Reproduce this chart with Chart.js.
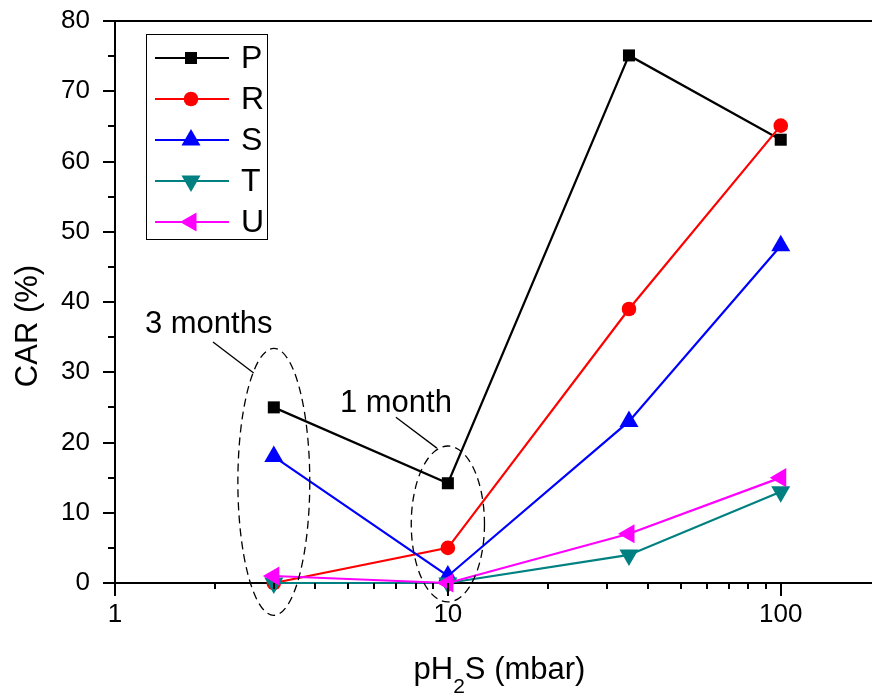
<!DOCTYPE html>
<html>
<head>
<meta charset="utf-8">
<script src="https://cdn.jsdelivr.net/npm/chart.js@4/dist/chart.umd.min.js"></script>
<style>
html,body{margin:0;padding:0;background:#fff;}
#wrap{width:872px;height:695px;}
</style>
</head>
<body>
<div id="wrap"><canvas id="c" width="872" height="695"></canvas></div>
<script>
// ---- data ----
const xValues = [3, 10, 35, 100];
const seriesP = [25, 14.2, 75.1, 63.1];
const seriesR = [0, 5, 39, 65.1];
const seriesS = [18, 1, 23, 48];
const seriesT = [0, 0, 4, 13];
const seriesU = [1, 0, 7, 15];
const seriesNames = ['P', 'R', 'S', 'T', 'U'];
const xTickLabels = [1, 10, 100];
const yTickValues = [0, 10, 20, 30, 40, 50, 60, 70, 80];
const xTitleParts = ['pH', '2', 'S (mbar)'];
const yTitle = 'CAR (%)';
// annotations in data units
const groupNotes = [
  {text: '3 months', textX: 1.23, textY: 35.6, lineFrom: [1.97, 34.3], lineTo: [2.61, 29.9], cx: 3, cy: 14.4, ry: 19, rxDec: 0.108},
  {text: '1 month', textX: 4.74, textY: 24.4, lineFrom: [6.98, 23.6], lineTo: [9.27, 19.2], cx: 10, cy: 8.4, ry: 11.1, rxDec: 0.11}
];

const FONT = '"Liberation Sans", Arial, Helvetica, sans-serif';

const styles = [
  {color: '#000000', point: 'rect', radius: 8.5, rot: 0},
  {color: '#ff0000', point: 'circle', radius: 7.3, rot: 0},
  {color: '#0000ff', point: 'triangle', radius: 11, rot: 0},
  {color: '#008080', point: 'triangle', radius: 11, rot: 180},
  {color: '#ff00ff', point: 'triangle', radius: 11, rot: -90}
];
const allSeries = [seriesP, seriesR, seriesS, seriesT, seriesU];

const datasets = allSeries.map((s, i) => ({
  label: seriesNames[i],
  data: xValues.map((x, j) => ({x: x, y: s[j]})),
  borderColor: styles[i].color,
  backgroundColor: styles[i].color,
  borderWidth: 2.2,
  pointStyle: styles[i].point,
  pointRadius: styles[i].radius,
  pointRotation: styles[i].rot,
  pointBorderWidth: 0,
  pointBackgroundColor: styles[i].color,
  pointHoverRadius: styles[i].radius,
  order: 5 - i,
  clip: false,
  tension: 0
}));

function drawMarker(ctx, st, x, y) {
  const r = st.radius;
  ctx.save();
  ctx.fillStyle = st.color;
  ctx.translate(x, y);
  ctx.rotate(st.rot * Math.PI / 180);
  ctx.beginPath();
  if (st.point === 'rect') {
    const s = Math.SQRT1_2 * r;
    ctx.rect(-s, -s, 2 * s, 2 * s);
  } else if (st.point === 'circle') {
    ctx.arc(0, 0, r, 0, Math.PI * 2);
  } else {
    for (let k = 0; k < 3; k++) {
      const a = k * 2 * Math.PI / 3;
      const px = Math.sin(a) * r, py = -Math.cos(a) * r;
      if (k === 0) ctx.moveTo(px, py); else ctx.lineTo(px, py);
    }
    ctx.closePath();
  }
  ctx.fill();
  ctx.restore();
}

const decor = {
  id: 'decor',
  afterDatasetsDraw(chart) {
    const ctx = chart.ctx;
    const xs = chart.scales.x, ys = chart.scales.y;
    const ca = chart.chartArea;
    ctx.save();
    // top frame line
    ctx.strokeStyle = '#000';
    ctx.lineWidth = 2;
    ctx.beginPath();
    ctx.moveTo(ca.left, ca.top);
    ctx.lineTo(ca.right + 2, ca.top);
    ctx.stroke();
    // y tick marks
    for (let v = ys.min; v <= ys.max + 1e-9; v += 5) {
      const py = Math.round(ys.getPixelForValue(v));
      const len = (v % 10 === 0) ? 12 : 7;
      ctx.beginPath();
      ctx.moveTo(ca.left - len, py);
      ctx.lineTo(ca.left, py);
      ctx.stroke();
    }
    // x tick marks (log)
    for (let d = 1; d <= xs.max; d *= 10) {
      for (let k = 1; k <= 9; k++) {
        const v = d * k;
        if (v < xs.min || v > xs.max) continue;
        const px = Math.round(xs.getPixelForValue(v));
        const len = (k === 1) ? 13 : 6;
        ctx.beginPath();
        ctx.moveTo(px, ca.bottom);
        ctx.lineTo(px, ca.bottom + len);
        ctx.stroke();
      }
    }
    // group ellipses, leader lines, notes
    ctx.lineWidth = 1.3;
    ctx.strokeStyle = '#000';
    groupNotes.forEach(n => {
      const cx = xs.getPixelForValue(n.cx);
      const rx = xs.getPixelForValue(n.cx * Math.pow(10, n.rxDec)) - cx;
      const cy = ys.getPixelForValue(n.cy);
      const ry = ys.getPixelForValue(n.cy - n.ry) - cy;
      ctx.setLineDash([8, 5]);
      ctx.beginPath();
      ctx.ellipse(cx, cy, rx, ry, 0, 0, Math.PI * 2);
      ctx.stroke();
      ctx.setLineDash([]);
      ctx.beginPath();
      ctx.moveTo(xs.getPixelForValue(n.lineFrom[0]), ys.getPixelForValue(n.lineFrom[1]));
      ctx.lineTo(xs.getPixelForValue(n.lineTo[0]), ys.getPixelForValue(n.lineTo[1]));
      ctx.stroke();
      ctx.fillStyle = '#000';
      ctx.font = '31px ' + FONT;
      ctx.textAlign = 'left';
      ctx.textBaseline = 'alphabetic';
      ctx.fillText(n.text, xs.getPixelForValue(n.textX), ys.getPixelForValue(n.textY));
    });
    // legend
    const lx = ca.left + 31, ly = ca.top + 13, lw = 121, lh = 205;
    ctx.lineWidth = 1;
    ctx.strokeStyle = '#000';
    ctx.strokeRect(lx + 0.5, ly + 0.5, lw, lh);
    seriesNames.forEach((name, i) => {
      const yy = ly + 24 + i * 41;
      const st = styles[i];
      ctx.strokeStyle = st.color;
      ctx.lineWidth = 2.2;
      ctx.beginPath();
      ctx.moveTo(lx + 9, yy);
      ctx.lineTo(lx + 83, yy);
      ctx.stroke();
      drawMarker(ctx, st, lx + 45, yy);
      ctx.fillStyle = '#000';
      ctx.font = '32px ' + FONT;
      ctx.textAlign = 'left';
      ctx.textBaseline = 'middle';
      ctx.fillText(name, lx + 95, yy + 1);
    });
    // axis titles
    ctx.fillStyle = '#000';
    ctx.textBaseline = 'alphabetic';
    ctx.font = '31px ' + FONT;
    const w0 = ctx.measureText(xTitleParts[0]).width;
    ctx.font = '21px ' + FONT;
    const w1 = ctx.measureText(xTitleParts[1]).width;
    ctx.font = '31px ' + FONT;
    const w2 = ctx.measureText(xTitleParts[2]).width;
    const total = w0 + w1 + w2;
    const xc = (ca.left + ca.right) / 2 + 6;
    let sx = xc - total / 2;
    const by = ca.bottom + 96;
    ctx.textAlign = 'left';
    ctx.fillText(xTitleParts[0], sx, by);
    ctx.font = '21px ' + FONT;
    ctx.fillText(xTitleParts[1], sx + w0, by + 14);
    ctx.font = '31px ' + FONT;
    ctx.fillText(xTitleParts[2], sx + w0 + w1, by);
    ctx.save();
    ctx.translate(37, (ca.top + ca.bottom) / 2 + 24);
    ctx.rotate(-Math.PI / 2);
    ctx.textAlign = 'center';
    ctx.fillText(yTitle, 0, 0);
    ctx.restore();
    ctx.restore();
  }
};

new Chart(document.getElementById('c'), {
  type: 'line',
  data: {datasets: datasets},
  options: {
    responsive: false,
    animation: false,
    events: [],
    layout: {autoPadding: false, padding: {top: 21, right: 0, left: 0, bottom: 0}},
    plugins: {legend: {display: false}, tooltip: {enabled: false}},
    scales: {
      x: {
        type: 'logarithmic',
        min: 1,
        max: 188,
        grid: {display: false, drawTicks: false},
        border: {display: true, color: '#000', width: 2},
        ticks: {
          autoSkip: false,
          maxRotation: 0,
          padding: 16,
          color: '#000',
          font: {size: 26, family: FONT},
          callback: (v) => xTickLabels.includes(v) ? String(v) : ''
        },
        afterFit: (s) => { s.height = 112; s.paddingLeft = 0; s.paddingRight = 0; }
      },
      y: {
        type: 'linear',
        min: 0,
        max: 80,
        grid: {display: false, drawTicks: false},
        border: {display: true, color: '#000', width: 2},
        afterBuildTicks: (s) => { s.ticks = yTickValues.map(v => ({value: v})); },
        ticks: {
          padding: 25,
          color: '#000',
          font: {size: 26, family: FONT}
        },
        afterFit: (s) => { s.width = 115; s.paddingTop = 0; s.paddingBottom = 0; }
      }
    }
  },
  plugins: [decor]
});
</script>
</body>
</html>
